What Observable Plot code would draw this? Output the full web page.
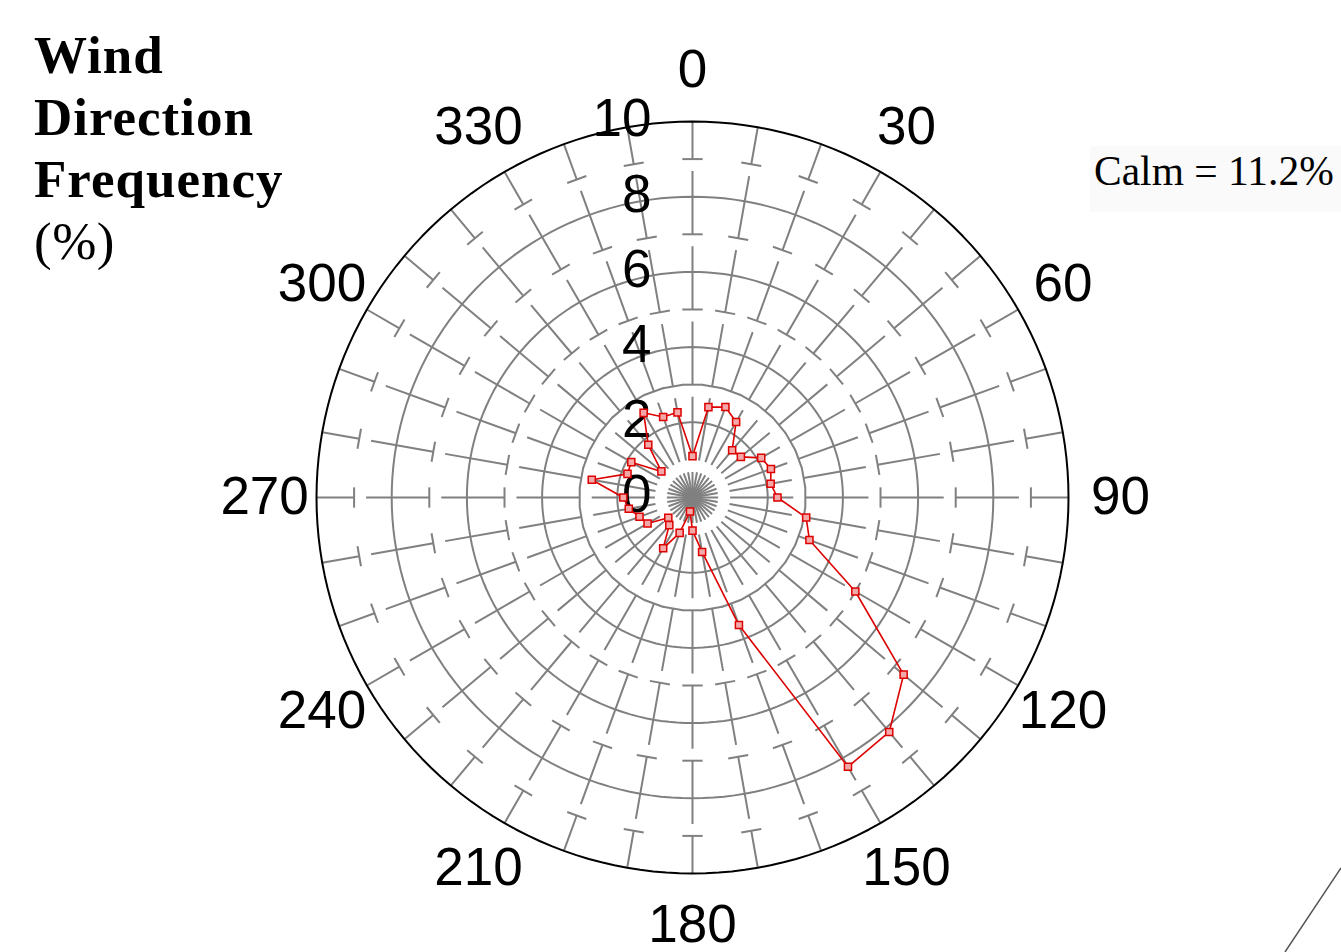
<!DOCTYPE html>
<html>
<head>
<meta charset="utf-8">
<script src="https://cdn.jsdelivr.net/npm/d3@7"></script>
<script src="https://cdn.jsdelivr.net/npm/@observablehq/plot@0.6"></script>
<style>
  body { margin: 0; background: #fff; }
  #wrap { position: relative; width: 1341px; height: 952px; overflow: hidden; background: #fff; }
  #chart { position: absolute; left: 0; top: 0; }
  #title { position: absolute; left: 34px; top: 24px; font-family: "Liberation Serif", "Times New Roman", serif;
           font-size: 53px; line-height: 62px; font-weight: bold; color: #000; letter-spacing: 1px; }
  #title .pct { font-weight: normal; letter-spacing: 0.5px; }
  #calm { position: absolute; left: 1090px; top: 146px; width: 251px; height: 66px; background: #fafafa;
          font-family: "Liberation Serif", "Times New Roman", serif; font-size: 41.5px; line-height: 50px;
          color: #000; padding-left: 4px; box-sizing: border-box; white-space: nowrap; }
  #deco { position: absolute; left: 0; top: 0; pointer-events: none; }
</style>
</head>
<body>
<div id="wrap">
  <div id="chart"></div>
  <div id="title">Wind<br>Direction<br>Frequency<br><span class="pct">(%)</span></div>
  <div id="calm"></div>
  <svg id="deco" width="1341" height="952"><line x1="1285" y1="952" x2="1341" y2="868" stroke="#555" stroke-width="1.5"/></svg>
</div>
<script>
// ---- data ----
const directions = [0, 10, 20, 30, 40, 50, 60, 70, 80, 90, 100, 110, 120, 130, 140, 150, 160, 170,
                    180, 190, 200, 210, 220, 230, 240, 250, 260, 270, 280, 290, 300, 310, 320, 330, 340, 350];
const frequency = [1.1, 2.44, 2.56, 2.32, 1.64, 1.68, 2.11, 2.22, 2.11, 2.26, 3.07, 3.31, 5.0, 7.33, 8.14, 8.27, 3.61, 1.47,
                   0.88, 0.38, 1.0, 1.56, 0.96, 0.84, 1.38, 1.5, 1.72, 1.84, 2.72, 1.84, 1.88, 1.08, 1.83, 2.6, 2.28, 2.3];
const angleLabels = [0, 30, 60, 90, 120, 150, 180, 210, 240, 270, 300, 330];
const innerRings = [2, 4, 6, 8];
const outerRing = [10];
const radialLabels = [0, 2, 4, 6, 8, 10];
const minorTicks = [3, 5, 7, 9];
const calmText = "Calm = 11.2%";

const rMax = 10;
const labelR = 11.38;
const lon = (deg) => 180 - deg;     // compass degrees (clockwise from north) -> longitude
const lat = (r) => 90 - r;          // radial value -> latitude (colatitude = r)
const halfTick = 0.27;              // half-length of the minor cross ticks, in radial units

const rows = directions.map((d, i) => ({dir: d, f: frequency[i]}));
const ticks = d3.cross(directions, minorTicks);
const tickOff = ([d, r]) => Math.atan2(halfTick, r) * 180 / Math.PI;
const tickLat = ([d, r]) => 90 - Math.hypot(r, halfTick);

const gray = "#808080";
const red = "#dd0000";

const chart = Plot.plot({
  width: 1341,
  height: 952,
  marginLeft: 316,
  marginRight: 273,
  marginTop: 121,
  marginBottom: 79,
  style: {fontFamily: "'Liberation Sans', Arial, sans-serif", background: "transparent", color: "#000"},
  projection: {
    type: "azimuthal-equidistant",
    rotate: [0, -90],
    domain: d3.geoCircle().center([0, 90]).radius(rMax)(),
    clip: false
  },
  marks: [
    // spokes
    Plot.link(directions, {
      x1: (d) => lon(d), y1: lat(rMax), x2: (d) => lon(d), y2: 90,
      stroke: gray, strokeWidth: 2, strokeDasharray: "63.2,12", strokeDashoffset: 25.6
    }),
    // minor cross ticks
    Plot.link(ticks, {
      x1: (t) => lon(t[0]) + tickOff(t), y1: tickLat,
      x2: (t) => lon(t[0]) - tickOff(t), y2: tickLat,
      stroke: gray, strokeWidth: 2
    }),
    // rings
    Plot.geo(innerRings, {
      geometry: (r) => d3.geoCircle().center([0, 90]).radius(r)(),
      stroke: gray, strokeWidth: 2, fill: "none"
    }),
    Plot.geo(outerRing, {
      geometry: (r) => d3.geoCircle().center([0, 90]).radius(r)(),
      stroke: "#000", strokeWidth: 2, fill: "none"
    }),
    // radial labels
    Plot.text(radialLabels, {
      x: 180, y: (d) => lat(d), text: (d) => String(d),
      textAnchor: "end", dx: -41, dy: -2, fontSize: 53, fill: "#000"
    }),
    // angle labels
    Plot.text(angleLabels, {
      x: (d) => lon(d), y: lat(labelR), text: (d) => String(d),
      fontSize: 53, fill: "#000"
    }),
    // data
    Plot.line(rows, {
      x: (d) => lon(d.dir), y: (d) => lat(d.f),
      curve: "linear-closed", stroke: red, strokeWidth: 1.6
    }),
    Plot.dot(rows, {
      x: (d) => lon(d.dir), y: (d) => lat(d.f),
      symbol: "square", r: 4, stroke: red, strokeWidth: 1.5, fill: "#f5a8a8"
    })
  ]
});
document.getElementById("chart").appendChild(chart);
document.getElementById("calm").textContent = calmText;
</script>
</body>
</html>
